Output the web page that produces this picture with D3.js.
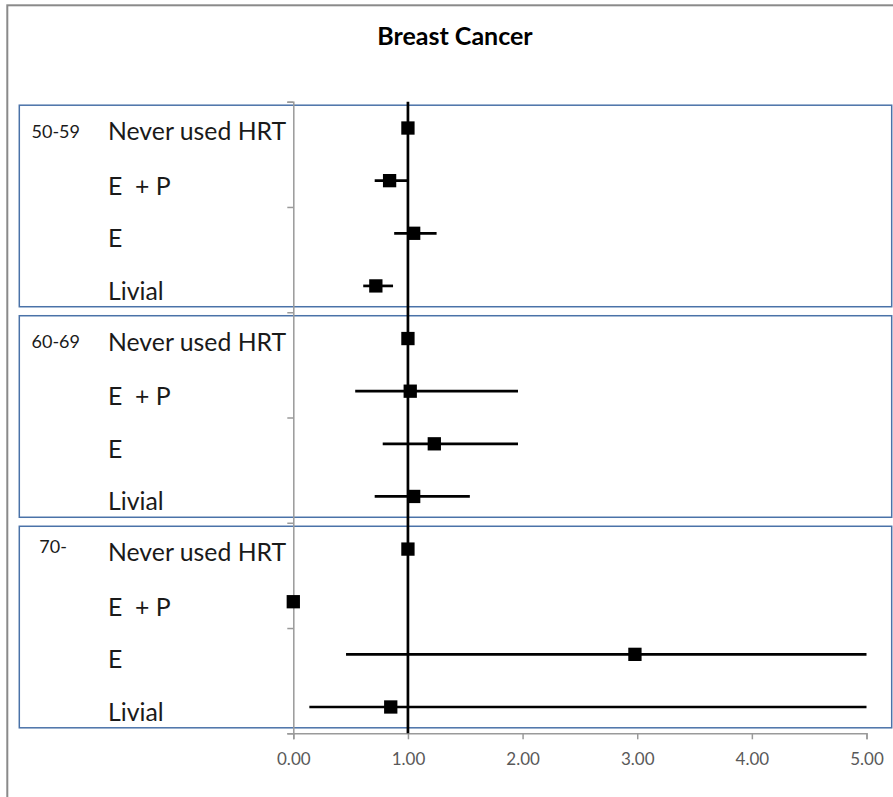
<!DOCTYPE html>
<html>
<head>
<meta charset="utf-8">
<script src="https://cdn.jsdelivr.net/npm/d3@7"></script>
<style>
  body { margin: 0; background: #fff; }
  text { font-family: Lato, "Liberation Sans", sans-serif; }
</style>
</head>
<body>
<div id="chart"></div>
<script>
// Chart data
const ageGroups = ["50-59", "60-69", "70-"];
const treatments = ["Never used HRT", "E  + P", "E", "Livial"];
// relative risk per age group, one value per treatment
const estimate = [
  [1.00, 0.84, 1.05, 0.72],
  [1.00, 1.02, 1.23, 1.05],
  [1.00, 0.00, 2.98, 0.85]
];
const lower = [
  [null, 0.71, 0.88, 0.61],
  [null, 0.54, 0.78, 0.71],
  [null, null, 0.46, 0.14]
];
const upper = [
  [null, 1.00, 1.25, 0.87],
  [null, 1.96, 1.96, 1.54],
  [null, null, 5.00, 5.00]
];
const xTicks = [0, 1, 2, 3, 4, 5];
const refValue = 1;

const width = 893, height = 797;

const svg = d3.select("#chart").append("svg")
    .attr("width", width)
    .attr("height", height);

// scales
const x = d3.scaleLinear().domain([0, 5]).range([293.3, 866.5]);
const nRows = ageGroups.length * treatments.length;
const y = d3.scaleLinear().domain([0, nRows]).range([101.7, 733.3]);

// flatten rows
const rows = [];
ageGroups.forEach((g, gi) => {
  treatments.forEach((t, ti) => {
    rows.push({ group: g, gi: gi, label: t, ti: ti, row: gi * treatments.length + ti,
      est: estimate[gi][ti], lo: lower[gi][ti], hi: upper[gi][ti] });
  });
});

// outer chart border
svg.append("rect")
    .attr("x", 7.3).attr("y", 5.3)
    .attr("width", 950).attr("height", 850)
    .attr("fill", "none")
    .attr("stroke", "#8a8a8a")
    .attr("stroke-width", 2);

// title
svg.append("text")
    .attr("x", 455).attr("y", 45)
    .attr("text-anchor", "middle")
    .attr("font-size", 25)
    .attr("font-weight", "bold")
    .attr("fill", "#000")
    .text("Breast Cancer");

// panel boxes, one per age group
svg.selectAll(".panel")
  .data(ageGroups)
  .enter().append("rect")
    .attr("class", "panel")
    .attr("x", 19.3)
    .attr("y", (d, i) => y(i * treatments.length) + 3.5)
    .attr("width", 872.4)
    .attr("height", (d, i) => y((i + 1) * treatments.length) - y(i * treatments.length) - 9)
    .attr("fill", "none")
    .attr("stroke", "#4a72a8")
    .attr("stroke-width", 1.5);

// y axis (no labels, tick every two rows)
const yAxis = svg.append("g")
    .attr("transform", `translate(${x(0)},0)`)
    .call(d3.axisLeft(y).tickValues(d3.range(0, nRows + 1, 2)).tickSize(6).tickFormat(""));
yAxis.select(".domain").attr("stroke", "#9a9a9a").attr("stroke-width", 1.5);
yAxis.selectAll(".tick line").attr("stroke", "#9a9a9a").attr("stroke-width", 1.5);

// x axis
const xAxis = svg.append("g")
    .attr("transform", `translate(0,${y(nRows)})`)
    .call(d3.axisBottom(x).tickValues(xTicks).tickSize(6).tickPadding(14).tickFormat(d3.format(".2f")));
xAxis.select(".domain").attr("stroke", "#9a9a9a").attr("stroke-width", 1.5);
xAxis.selectAll(".tick line").attr("stroke", "#9a9a9a").attr("stroke-width", 1.5);
xAxis.selectAll(".tick text")
    .attr("font-size", 17)
    .attr("font-family", "Lato, sans-serif")
    .attr("fill", "#595959");

// reference line at 1
svg.append("line")
    .attr("x1", x(refValue)).attr("x2", x(refValue))
    .attr("y1", y(0)).attr("y2", y(nRows))
    .attr("stroke", "#000")
    .attr("stroke-width", 2.7);

// error bars
svg.selectAll(".ci")
  .data(rows.filter(d => d.lo !== null))
  .enter().append("line")
    .attr("class", "ci")
    .attr("x1", d => x(d.lo))
    .attr("x2", d => x(d.hi))
    .attr("y1", d => y(d.row + 0.5))
    .attr("y2", d => y(d.row + 0.5))
    .attr("stroke", "#000")
    .attr("stroke-width", 2.7);

// point markers
const ms = 13.3;
svg.selectAll(".pt")
  .data(rows)
  .enter().append("rect")
    .attr("class", "pt")
    .attr("x", d => x(d.est) - ms / 2)
    .attr("y", d => y(d.row + 0.5) - ms / 2)
    .attr("width", ms)
    .attr("height", ms)
    .attr("fill", "#000");

// treatment labels
svg.selectAll(".lab")
  .data(rows)
  .enter().append("text")
    .attr("class", "lab")
    .attr("x", 108)
    .attr("y", d => y(d.row + 0.5) + (d.ti === 0 ? 12 : 14))
    .attr("font-size", 24.8)
    .attr("fill", "#1a1a1a")
    .style("white-space", "pre")
    .text(d => d.label);

// age group labels
svg.selectAll(".age")
  .data(ageGroups)
  .enter().append("text")
    .attr("class", "age")
    .attr("x", (d, i) => i === 2 ? 39.3 : 31.5)
    .attr("y", (d, i) => y(i * treatments.length) + (i === 2 ? 30.5 : 36))
    .attr("font-size", 18)
    .attr("fill", "#1a1a1a")
    .text(d => d);
</script>
</body>
</html>
